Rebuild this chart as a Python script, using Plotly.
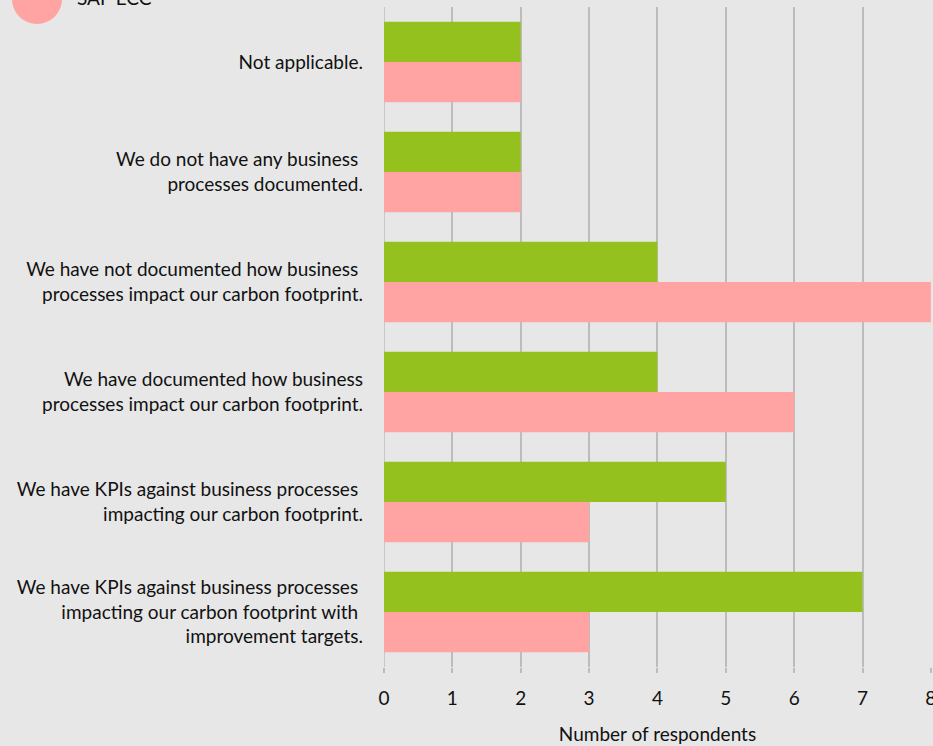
import plotly.graph_objects as go

categories = [
    "Not applicable.",
    "We do not have any business <br>processes documented.",
    "We have not documented how business <br>processes impact our carbon footprint.",
    "We have documented how business<br>processes impact our carbon footprint.",
    "We have KPIs against business processes <br>impacting our carbon footprint.",
    "We have KPIs against business processes <br>impacting our carbon footprint with <br>improvement targets.",
]
s4hana_counts = [2, 2, 4, 4, 5, 7]
ecc_counts = [2, 2, 8, 6, 3, 3]
series_names = ["SAP S/4HANA", "SAP ECC"]
x_ticks = [0, 1, 2, 3, 4, 5, 6, 7, 8]

GREEN = "#95c11f"
PINK = "#ffa3a3"
BG = "#e7e7e7"
GRID = "#bcbcbc"
FONT = "Lato, 'Open Sans', sans-serif"
FS = 19

fig = go.Figure()
fig.add_trace(go.Bar(y=categories, x=s4hana_counts, orientation="h",
                     name=series_names[0], marker=dict(color=GREEN, line=dict(width=0))))
fig.add_trace(go.Bar(y=categories, x=ecc_counts, orientation="h",
                     name=series_names[1], marker=dict(color=PINK, line=dict(width=0))))

# Custom legend: large round keys in the top-left corner
legend_y = [-56, -1]
for name, color, cy in zip(series_names, [GREEN, PINK], legend_y):
    fig.add_shape(type="circle", xref="paper", yref="paper",
                  xsizemode="pixel", ysizemode="pixel",
                  xanchor=-347 / 547, yanchor=1 + (7 - cy) / 660,
                  x0=-25, x1=25, y0=-25, y1=25,
                  fillcolor=color, line=dict(width=0), layer="above")
    fig.add_annotation(xref="paper", yref="paper",
                       x=-309 / 547, y=1 + (7 - cy + 2) / 660,
                       xanchor="left", yanchor="middle", showarrow=False,
                       text=name, font=dict(family=FONT, size=FS, color="#111"))

fig.update_layout(
    width=933, height=746,
    margin=dict(l=384, r=2, t=7, b=79, autoexpand=False),
    paper_bgcolor=BG, plot_bgcolor=BG,
    barmode="group", bargap=0.27, bargroupgap=0,
    showlegend=False,
    font=dict(family=FONT, size=FS, color="#111"),
)
fig.update_xaxes(
    range=[0, 8.002], tickvals=x_ticks, showgrid=True, gridcolor=GRID, gridwidth=1.5,
    zeroline=False, showline=False, automargin=False,
    ticks="outside", ticklen=5, tickcolor=GRID, tickwidth=1.5,
    ticklabelstandoff=9, ticklabeloverflow="allow",
    tickfont=dict(family=FONT, size=FS, color="#111"),
    title=dict(text="Number of respondents", font=dict(family=FONT, size=FS, color="#111"), standoff=19),
)
fig.update_yaxes(
    autorange="reversed", showgrid=False, zeroline=False, showline=False,
    automargin=False, ticks="", ticklabelstandoff=20,
    tickfont=dict(family=FONT, size=FS, color="#111"),
)
fig.add_vline(x=0, line=dict(color=GRID, width=1.5), layer="below")

fig.write_html("out.html")
